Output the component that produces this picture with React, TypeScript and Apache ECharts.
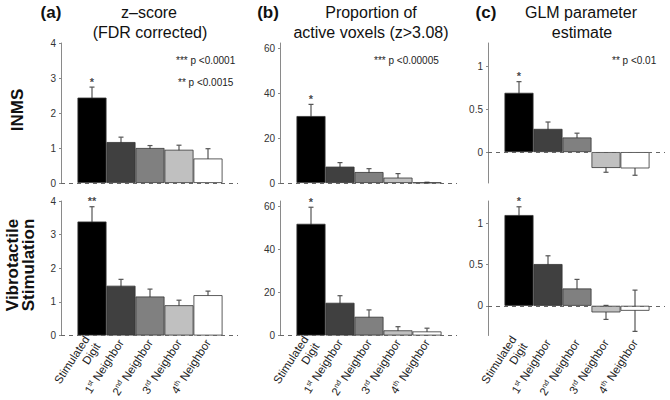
import React, { useEffect, useRef } from "react";
import * as echarts from "echarts";

// ---- data ----
const categories = ["Stimulated Digit", "1st Neighbor", "2nd Neighbor", "3rd Neighbor", "4th Neighbor"];

const zScoreInms = [2.44, 1.17, 1.0, 0.95, 0.7];
const zScoreInmsErr = [0.3, 0.14, 0.07, 0.13, 0.28];
const zScoreVib = [3.39, 1.48, 1.16, 0.9, 1.2];
const zScoreVibErr = [0.44, 0.19, 0.22, 0.15, 0.12];

const propInms = [29.9, 7.3, 4.9, 2.4, 0.2];
const propInmsErr = [5.2, 1.8, 1.5, 1.8, 0.15];
const propVib = [51.9, 15.2, 8.7, 2.4, 1.9];
const propVibErr = [7.7, 3.3, 3.2, 1.7, 1.5];

const glmInms = [0.69, 0.27, 0.17, -0.185, -0.19];
const glmInmsErr = [0.13, 0.08, 0.05, 0.05, 0.08];
const glmVib = [1.1, 0.506, 0.21, -0.08, -0.06];
const glmVibErr = [0.1, 0.1, 0.11, 0.085, 0.25];

const starsZInms = ["*", "", "", "", ""];
const starsZVib = ["**", "", "", "", ""];
const starsPropInms = ["*", "", "", "", ""];
const starsPropVib = ["*", "", "", "", ""];
const starsGlmInms = ["*", "", "", "", ""];
const starsGlmVib = ["*", "", "", "", ""];

const zTicks = [0, 1, 2, 3, 4];
const propTicks = [0, 20, 40, 60];
const glmTicks = [0, 0.5, 1];

const barColors = ["#000000", "#404040", "#808080", "#c0c0c0", "#ffffff"];

const FONT = "'Liberation Sans', Arial, Helvetica, sans-serif";

function labelFormatter(v: number) {
  const c = categories[Math.round(v)];
  if (!c) return "";
  const m = c.match(/^(\d)(st|nd|rd|th) (.*)$/);
  if (m) return `{n|${m[1]}}{s|${m[2]}}{n| ${m[3]}}`;
  const parts = c.split(" ");
  return `{n|${parts[0]}}\n{n|${parts[1]}}`;
}

export default function App() {
  const ref = useRef<HTMLDivElement>(null);
  useEffect(() => {
    if (!ref.current) return;
    const chart = echarts.init(ref.current, undefined, { renderer: "svg" });

    const cols = [61, 280, 488];
    const rows = [
      { top: 43, height: 140 },
      { top: 201, height: 139 },
    ];
    const panels = [
      { col: 0, row: 0, vals: zScoreInms, err: zScoreInmsErr, stars: starsZInms, min: 0, max: 4, ticks: zTicks },
      { col: 1, row: 0, vals: propInms, err: propInmsErr, stars: starsPropInms, min: 0, max: 62.5, ticks: propTicks },
      { col: 2, row: 0, vals: glmInms, err: glmInmsErr, stars: starsGlmInms, min: -0.36, max: 1.27, ticks: glmTicks },
      { col: 0, row: 1, vals: zScoreVib, err: zScoreVibErr, stars: starsZVib, min: 0, max: 4, ticks: zTicks },
      { col: 1, row: 1, vals: propVib, err: propVibErr, stars: starsPropVib, min: 0, max: 62.5, ticks: propTicks },
      { col: 2, row: 1, vals: glmVib, err: glmVibErr, stars: starsGlmVib, min: -0.36, max: 1.27, ticks: glmTicks },
    ];

    const grid: any[] = [];
    const xAxis: any[] = [];
    const yAxis: any[] = [];
    const series: any[] = [];

    panels.forEach((p, i) => {
      grid.push({ left: cols[p.col], top: rows[p.row].top, width: 177, height: rows[p.row].height });
      xAxis.push({
        type: "value",
        gridIndex: i,
        min: -31 / 29,
        max: 146 / 29,
        axisLine: { show: false },
        axisTick: { show: false },
        splitLine: { show: false },
        axisLabel: {
          show: p.row === 1,
          customValues: [0, 1, 2, 3, 4],
          rotate: 57,
          margin: 5,
          formatter: labelFormatter,
          rich: {
            n: { fontSize: 11.5, color: "#222", fontFamily: FONT, lineHeight: 13 },
            s: { fontSize: 7, color: "#222", fontFamily: FONT, verticalAlign: "top", lineHeight: 13 },
          },
        },
      });
      yAxis.push({
        type: "value",
        gridIndex: i,
        min: p.min,
        max: p.max,
        axisLine: { show: true, onZero: false, lineStyle: { color: "#8a8a8a", width: 1 } },
        axisTick: { show: true, length: 2, customValues: p.ticks, lineStyle: { color: "#8a8a8a" } },
        splitLine: { show: false },
        axisLabel: {
          customValues: p.ticks,
          fontSize: 10,
          color: "#333",
          margin: 5,
          fontFamily: FONT,
        },
      });
      series.push({
        type: "bar",
        xAxisIndex: i,
        yAxisIndex: i,
        barWidth: 29,
        z: 3,
        data: p.vals.map((v, k) => ({
          value: [k, v],
          itemStyle: { color: barColors[k], borderColor: "#333", borderWidth: 0.8 },
        })),
        markLine: {
          silent: true,
          symbol: "none",
          label: { show: false },
          lineStyle: { type: [4, 4], color: "#666", width: 1 },
          data: [{ yAxis: 0 }],
          z: 4,
        },
      });
      series.push({
        type: "custom",
        xAxisIndex: i,
        yAxisIndex: i,
        z: 2,
        itemStyle: { color: "#555" },
        data: p.vals.map((v, k) => [k, v, p.err[k]]),
        renderItem: (params: any, api: any) => {
          const x = api.value(0);
          const v = api.value(1);
          const e = api.value(2);
          const top = api.coord([x, v + e]);
          const bot = api.coord([x, v - e]);
          const hw = 2.5;
          const st = { stroke: "#555", lineWidth: 1.2 };
          return {
            type: "group",
            children: [
              { type: "line", shape: { x1: top[0], y1: top[1], x2: bot[0], y2: bot[1] }, style: st },
              { type: "line", shape: { x1: top[0] - hw, y1: top[1], x2: top[0] + hw, y2: top[1] }, style: st },
              { type: "line", shape: { x1: bot[0] - hw, y1: bot[1], x2: bot[0] + hw, y2: bot[1] }, style: st },
            ],
          };
        },
      });
      const stars = p.stars;
      series.push({
        type: "scatter",
        xAxisIndex: i,
        yAxisIndex: i,
        symbolSize: 0,
        z: 5,
        itemStyle: { color: "#222" },
        data: p.vals.map((v, k) => [k, v + p.err[k]]),
        label: {
          show: true,
          position: "top",
          distance: 0,
          color: "#111",
          fontSize: 11,
          fontWeight: "bold",
          fontFamily: FONT,
          formatter: (d: any) => stars[d.dataIndex] || "",
        },
      });
    });

    const titleStyle = { fontSize: 16, fill: "#111", fontFamily: FONT, align: "center", verticalAlign: "middle" } as any;
    const panelLbl = { fontSize: 17, fontWeight: "bold", fill: "#111", fontFamily: FONT, align: "center", verticalAlign: "middle" } as any;
    const annot = { fontSize: 10, fill: "#222", fontFamily: FONT, align: "left", verticalAlign: "middle" } as any;

    const graphic: any[] = [
      { type: "text", x: 51, y: 12, style: { ...panelLbl, text: "(a)" } },
      { type: "text", x: 149, y: 12, style: { ...titleStyle, text: "z\u2013score" } },
      { type: "text", x: 150, y: 32, style: { ...titleStyle, text: "(FDR corrected)" } },
      { type: "text", x: 268, y: 12, style: { ...panelLbl, text: "(b)" } },
      { type: "text", x: 371, y: 12, style: { ...titleStyle, text: "Proportion of" } },
      { type: "text", x: 371, y: 32, style: { ...titleStyle, text: "active voxels (z>3.08)" } },
      { type: "text", x: 486, y: 12, style: { ...panelLbl, text: "(c)" } },
      { type: "text", x: 581, y: 12, style: { ...titleStyle, text: "GLM parameter" } },
      { type: "text", x: 582, y: 32, style: { ...titleStyle, text: "estimate" } },
      { type: "text", x: 176, y: 60, style: { ...annot, text: "*** p <0.0001" } },
      { type: "text", x: 178, y: 82, style: { ...annot, text: "** p <0.0015" } },
      { type: "text", x: 374, y: 60, style: { ...annot, text: "*** p <0.00005" } },
      { type: "text", x: 612, y: 60, style: { ...annot, text: "** p <0.01" } },
      {
        type: "text",
        x: 17,
        y: 110,
        rotation: Math.PI / 2,
        style: { ...panelLbl, text: "INMS" },
      },
      {
        type: "text",
        x: 20,
        y: 265,
        rotation: Math.PI / 2,
        style: { ...panelLbl, text: "Vibrotactile\nStimulation", lineHeight: 16 },
      },
    ];

    chart.setOption({
      animation: false,
      backgroundColor: "#ffffff",
      textStyle: { fontFamily: FONT },
      grid,
      xAxis,
      yAxis,
      series,
      graphic,
    });
    return () => chart.dispose();
  }, []);
  return <div ref={ref} style={{ position: "absolute", left: 0, top: 0, width: 670, height: 400 }} />;
}
